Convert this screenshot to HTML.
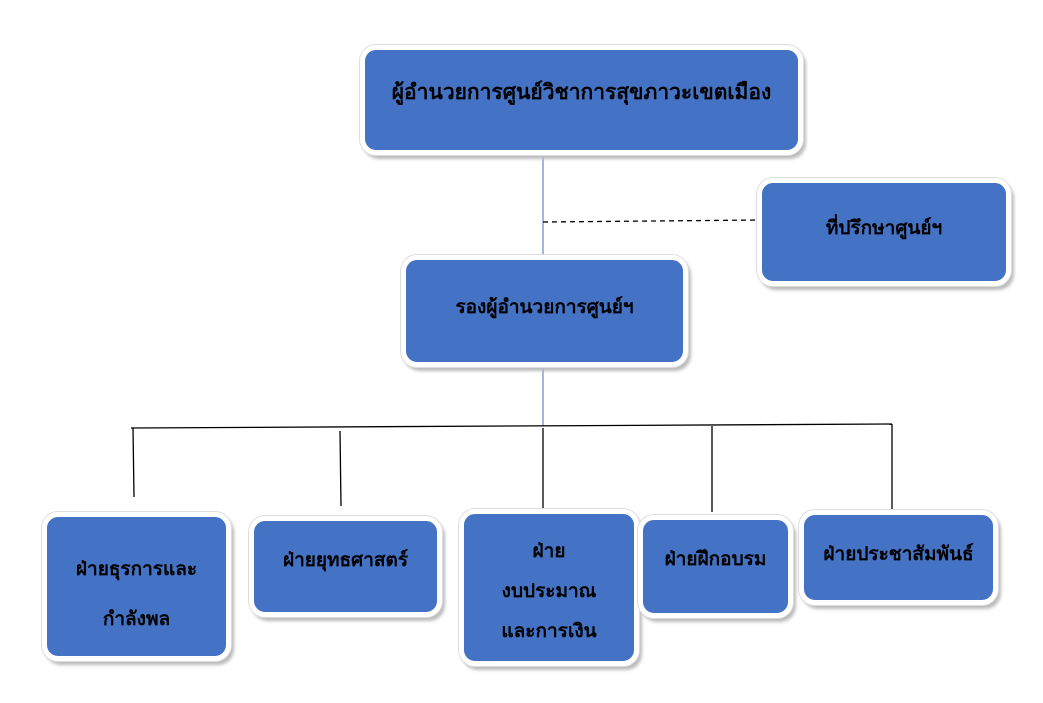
<!DOCTYPE html>
<html><head><meta charset="utf-8"><style>
body{margin:0;width:1043px;height:703px;background:#fff;position:relative;overflow:hidden;font-family:"Liberation Sans","DejaVu Sans",sans-serif;}
.b{position:absolute;box-sizing:border-box;background:#4472C4;border:5px solid #fff;border-radius:16px;box-shadow:0 0 0 1px #ddd,3px 4px 3px #bbb;color:#000;font-weight:bold;font-size:19px;text-align:center;}
</style></head><body>
<svg width="1043" height="703" style="position:absolute;left:0;top:0">
<line x1="543" y1="150" x2="543" y2="260" stroke="#4472C4" stroke-width="1"/>
<line x1="543" y1="222" x2="762" y2="220" stroke="#000" stroke-width="1.3" stroke-dasharray="5,4"/>
<line x1="543" y1="362" x2="543" y2="426" stroke="#4472C4" stroke-width="1"/>
<line x1="131" y1="428" x2="892" y2="424" stroke="#000" stroke-width="1.3"/>
<line x1="133" y1="428" x2="134" y2="497" stroke="#000" stroke-width="1.3"/>
<line x1="340" y1="431" x2="341" y2="506" stroke="#000" stroke-width="1.3"/>
<line x1="543" y1="428" x2="543" y2="508" stroke="#000" stroke-width="1.3"/>
<line x1="712" y1="426" x2="712" y2="512" stroke="#000" stroke-width="1.3"/>
<line x1="892" y1="424" x2="892" y2="510" stroke="#000" stroke-width="1.3"/>
</svg>
<div class="b" style="left:360px;top:45px;width:443px;height:110px;padding-top:26px;font-size:21px">ผู้อำนวยการศูนย์วิชาการสุขภาวะเขตเมือง</div>
<div class="b" style="left:757px;top:178px;width:254px;height:108px;padding-top:30px">ที่ปรึกษาศูนย์ฯ</div>
<div class="b" style="left:401px;top:255px;width:287px;height:112px;padding-top:32px">รองผู้อำนวยการศูนย์ฯ</div>
<div class="b" style="left:42px;top:512px;width:189px;height:149px;padding-top:28px;line-height:50px">ฝ่ายธุรการและ<br>กำลังพล</div>
<div class="b" style="left:249px;top:516px;width:193px;height:101px;padding-top:24px">ฝ่ายยุทธศาสตร์</div>
<div class="b" style="left:459px;top:509px;width:180px;height:157px;padding-top:18px;line-height:40px">ฝ่าย<br>งบประมาณ<br>และการเงิน</div>
<div class="b" style="left:638px;top:515px;width:155px;height:103px;padding-top:24px">ฝ่ายฝึกอบรม</div>
<div class="b" style="left:799px;top:510px;width:199px;height:95px;padding-top:24px">ฝ่ายประชาสัมพันธ์</div>
</body></html>
